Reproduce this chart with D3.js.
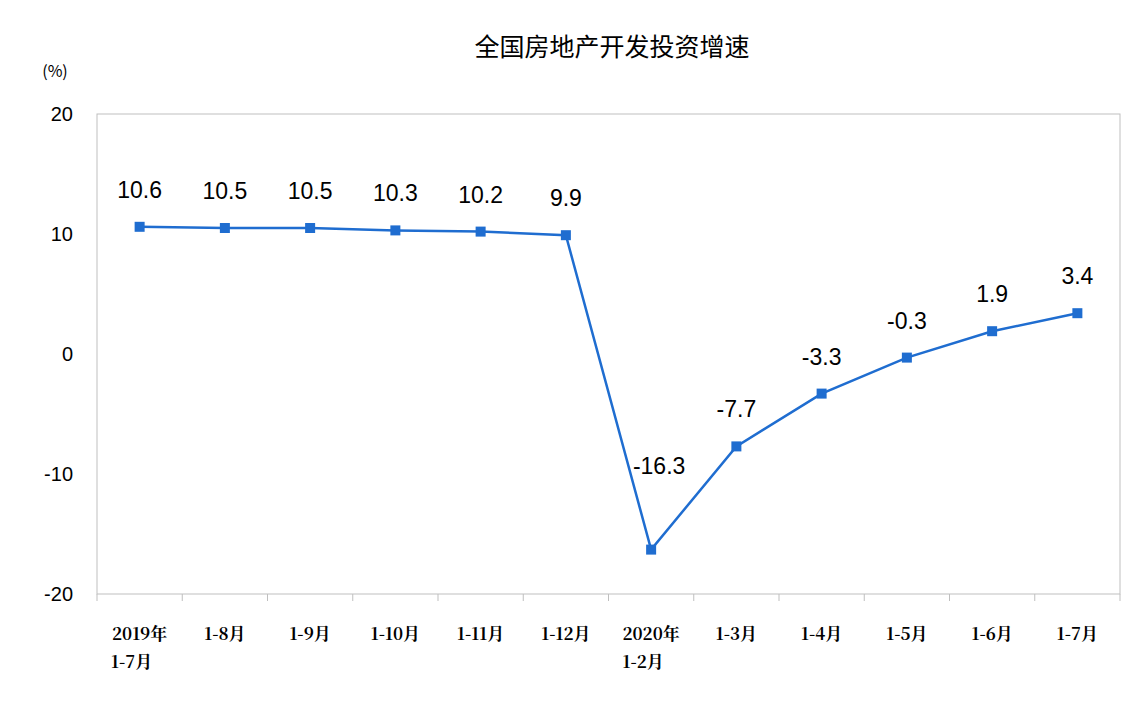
<!DOCTYPE html>
<html>
<head>
<meta charset="utf-8">
<script src="https://cdn.jsdelivr.net/npm/d3@7"></script>
<style>
body{margin:0;background:#fff;}
</style>
</head>
<body>
<svg id="chart" width="1148" height="709"></svg>
<script>
// 类目与数值
var categories = ["2019年|1-7月","1-8月","1-9月","1-10月","1-11月","1-12月","2020年|1-2月","1-3月","1-4月","1-5月","1-6月","1-7月"];
var values = [10.6,10.5,10.5,10.3,10.2,9.9,-16.3,-7.7,-3.3,-0.3,1.9,3.4];
var yTicks = [-20,-10,0,10,20];

var svg = d3.select("#chart");
var pLeft = 97, pRight = 1120, pTop = 114, pBottom = 594;
var color = "#1F6DD0";

var x = d3.scaleBand().domain(d3.range(categories.length)).range([pLeft,pRight]);
var y = d3.scaleLinear().domain([-20,20]).range([pBottom,pTop]);

svg.append("text")
    .attr("x",612).attr("y",56)
    .attr("text-anchor","middle")
    .style("font-family","'Noto Sans CJK SC'")
    .style("font-size","25px")
    .text("全国房地产开发投资增速");

svg.append("text")
    .attr("x",55).attr("y",77)
    .attr("text-anchor","middle")
    .style("font-family","'Noto Sans CJK SC'")
    .style("font-size","16px")
    .text("(%)");

// 外框
svg.append("rect")
    .attr("x",pLeft).attr("y",pTop)
    .attr("width",pRight-pLeft).attr("height",pBottom-pTop)
    .attr("fill","none").attr("stroke","#BFBFBF").attr("stroke-width",1);

// y轴刻度
svg.selectAll("text.ytick").data(yTicks).enter().append("text")
    .classed("ytick",true)
    .attr("x",73).attr("y",function(d){return y(d)+7;})
    .attr("text-anchor","end")
    .style("font-family","Arial, 'Liberation Sans'")
    .style("font-size","20px")
    .text(function(d){return d;});

// x轴分隔刻度
svg.selectAll("line.xtick").data(d3.range(categories.length+1)).enter().append("line")
    .classed("xtick",true)
    .attr("x1",function(d){return pLeft+d*x.step();})
    .attr("x2",function(d){return pLeft+d*x.step();})
    .attr("y1",pBottom).attr("y2",pBottom+7)
    .attr("stroke","#BFBFBF");

// x轴标签
var xl = svg.selectAll("text.xlabel").data(categories).enter().append("text")
    .classed("xlabel",true)
    .attr("text-anchor","middle")
    .style("font-family","'Noto Serif CJK SC','Noto Sans CJK SC'")
    .style("font-size","17px")
    .style("font-weight","bold");
xl.each(function(d,i){
    var parts = d.split("|");
    var t = d3.select(this);
    parts.forEach(function(p,j){
        t.append("tspan")
            .attr("x",x(i)+x.bandwidth()/2-(parts.length>1&&j==1?8:0))
            .attr("y",640+j*28)
            .text(p);
    });
});

var line = d3.line()
    .x(function(d,i){return x(i)+x.bandwidth()/2;})
    .y(function(d){return y(d);});

svg.append("path").datum(values)
    .attr("d",line)
    .attr("fill","none")
    .attr("stroke",color)
    .attr("stroke-width",2.5);

svg.selectAll("rect.pt").data(values).enter().append("rect")
    .classed("pt",true)
    .attr("x",function(d,i){return x(i)+x.bandwidth()/2-5;})
    .attr("y",function(d){return y(d)-5;})
    .attr("width",10).attr("height",10)
    .attr("fill",color);

svg.selectAll("text.lbl").data(values).enter().append("text")
    .classed("lbl",true)
    .attr("x",function(d,i){return x(i)+x.bandwidth()/2+(i==6?8:0);})
    .attr("y",function(d,i){return y(d)-(i==6?76:29);})
    .attr("text-anchor","middle")
    .style("font-family","Arial, 'Liberation Sans'")
    .style("font-size","23px")
    .text(function(d){return d;});
</script>
</body>
</html>
